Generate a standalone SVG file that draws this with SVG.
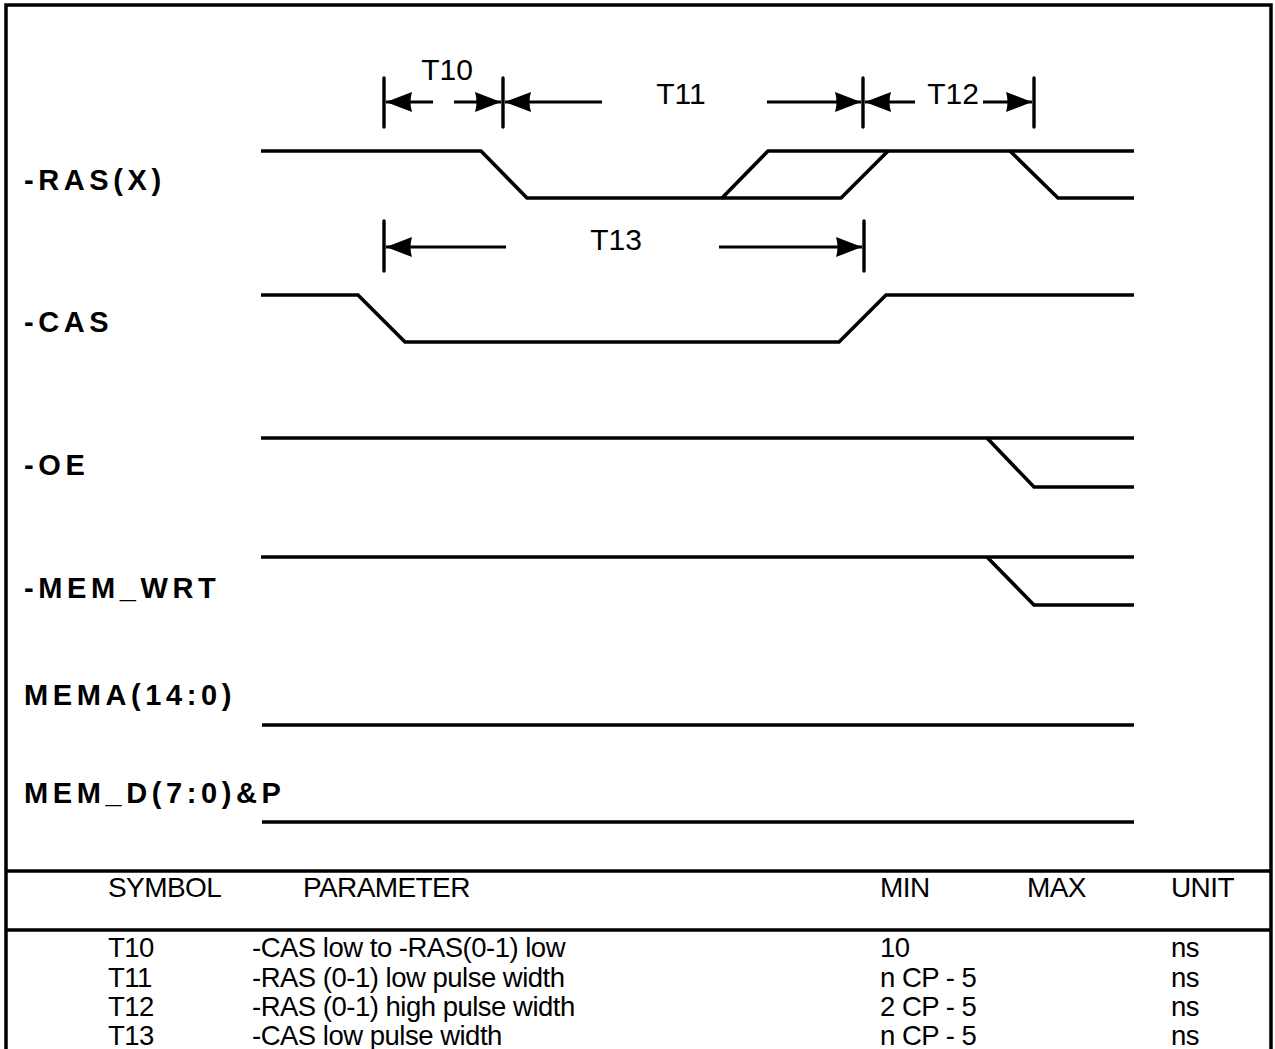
<svg xmlns="http://www.w3.org/2000/svg" width="1275" height="1049" viewBox="0 0 1275 1049">
<style>
.wave{fill:none;stroke:#000;stroke-width:3.6;stroke-linejoin:miter}
.tick{stroke:#000;stroke-width:3.4;stroke-linecap:round}
.dim{stroke:#000;stroke-width:2.8;marker-end:url(#ah)}
.sig{font-family:"Liberation Sans",Arial,sans-serif;font-weight:bold;font-size:29px;letter-spacing:4.6px;fill:#000}
.tl{font-family:"Liberation Sans",Arial,sans-serif;font-size:30px;fill:#000;text-anchor:middle}
.th{font-family:"Liberation Sans",Arial,sans-serif;font-size:28px;letter-spacing:-0.6px;fill:#000}
.td{font-family:"Liberation Sans",Arial,sans-serif;font-size:27.5px;letter-spacing:-0.5px;fill:#000}
.frame{stroke:#000;stroke-width:3.5;fill:none}
</style>
<defs>
<marker id="ah" markerUnits="userSpaceOnUse" markerWidth="30" markerHeight="24" viewBox="-28 -12 30 24" refX="0" refY="0" orient="auto">
<path d="M0,0 L-26,-10 Q-23,0 -26,10 Z" fill="#000"/>
</marker>
</defs>
<rect width="1275" height="1049" fill="#fff"/>
<g id="frame">
<path class="frame" d="M6,1049 V5 H1271 V1049"/>
<line class="frame" x1="6" y1="871" x2="1271" y2="871"/>
<line class="frame" x1="6" y1="930" x2="1271" y2="930" stroke-width="3"/>
</g>
<g id="labels">
<text class="sig" x="24" y="190">-RAS(X)</text>
<text class="sig" x="24" y="332">-CAS</text>
<text class="sig" x="24" y="475">-OE</text>
<text class="sig" x="24" y="598">-MEM_WRT</text>
<text class="sig" x="24" y="705">MEMA(14:0)</text>
<text class="sig" x="24" y="803">MEM_D(7:0)&amp;P</text>
</g>
<g id="waveforms">
<g id="ras"><path class="wave" d="M261,151 H481 L527,198 H722 L768,151 H1134"/><path class="wave" d="M722,198 H841 L888,151"/><path class="wave" d="M1010,151 L1058,198 H1134"/></g>
<g id="cas"><path class="wave" d="M261,295 H358 L405,342 H839 L886,295 H1134"/></g>
<g id="oe"><path class="wave" d="M261,438 H1134"/><path class="wave" d="M987,438 L1034,487 H1134"/></g>
<g id="memwrt"><path class="wave" d="M261,557 H1134"/><path class="wave" d="M987,557 L1034,605 H1134"/></g>
<g id="mema"><path class="wave" d="M262,725 H1134"/></g>
<g id="memd"><path class="wave" d="M262,822 H1134"/></g>
</g>
<g id="connectors">
<line class="tick" x1="384" y1="78" x2="384" y2="127"/>
<line class="tick" x1="503" y1="78" x2="503" y2="127"/>
<line class="tick" x1="863" y1="78" x2="863" y2="127"/>
<line class="tick" x1="1034" y1="78" x2="1034" y2="127"/>
<line class="tick" x1="384" y1="221" x2="384" y2="271"/>
<line class="tick" x1="864" y1="221" x2="864" y2="271"/>
<line class="dim" x1="433" y1="102" x2="386" y2="102"/>
<line class="dim" x1="454" y1="102" x2="501" y2="102"/>
<line class="dim" x1="602" y1="102" x2="505" y2="102"/>
<line class="dim" x1="767" y1="102" x2="861" y2="102"/>
<line class="dim" x1="915" y1="102" x2="865" y2="102"/>
<line class="dim" x1="983" y1="102" x2="1032" y2="102"/>
<line class="dim" x1="506" y1="247" x2="386" y2="247"/>
<line class="dim" x1="719" y1="247" x2="862" y2="247"/>
</g>
<g id="timing-labels">
<text class="tl" x="447" y="80">T10</text>
<text class="tl" x="681" y="104">T11</text>
<text class="tl" x="953" y="104">T12</text>
<text class="tl" x="616" y="250">T13</text>
</g>
<g id="table">
<text class="th" x="108" y="897">SYMBOL</text>
<text class="th" x="303" y="897">PARAMETER</text>
<text class="th" x="880" y="897">MIN</text>
<text class="th" x="1027" y="897">MAX</text>
<text class="th" x="1171" y="897">UNIT</text>
<text class="td" x="108" y="957">T10</text>
<text class="td" x="108" y="987">T11</text>
<text class="td" x="108" y="1016">T12</text>
<text class="td" x="108" y="1045">T13</text>
<text class="td" x="252" y="957">-CAS low to -RAS(0-1) low</text>
<text class="td" x="252" y="987">-RAS (0-1) low pulse width</text>
<text class="td" x="252" y="1016">-RAS (0-1) high pulse width</text>
<text class="td" x="252" y="1045">-CAS low pulse width</text>
<text class="td" x="880" y="957" letter-spacing="1">10</text>
<text class="td" x="880" y="987">n CP - 5</text>
<text class="td" x="880" y="1016">2 CP - 5</text>
<text class="td" x="880" y="1045">n CP - 5</text>
<text class="td" x="1171" y="957">ns</text>
<text class="td" x="1171" y="987">ns</text>
<text class="td" x="1171" y="1016">ns</text>
<text class="td" x="1171" y="1045">ns</text>
</g>
</svg>
